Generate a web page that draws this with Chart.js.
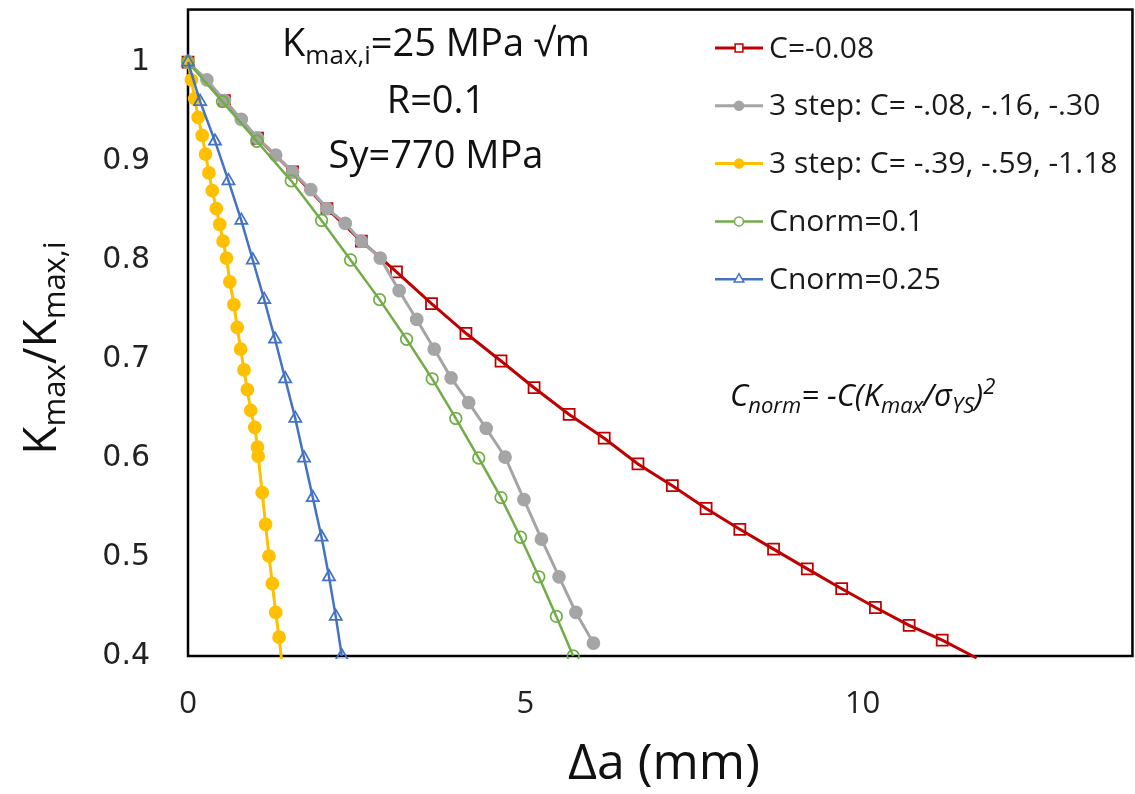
<!DOCTYPE html>
<html>
<head>
<meta charset="utf-8">
<title>Kmax/Kmax,i vs crack extension</title>
<script src="https://cdn.jsdelivr.net/npm/chart.js@4.4.1/dist/chart.umd.min.js"></script>
<style>
  html, body { margin: 0; padding: 0; background: #fff; overflow: hidden; }
  #wrap { width: 1135px; height: 794px; overflow: hidden; }
</style>
</head>
<body>
<div id="wrap"><canvas id="chart" width="1142" height="794"></canvas></div>
<script>
// values: crack extension (mm) vs Kmax/Kmax,i
const redX = [0, 0.54, 1.03, 1.55, 2.06, 2.57, 3.09, 3.61, 4.12, 4.64, 5.13, 5.65, 6.17, 6.67, 7.18, 7.68, 8.18, 8.68, 9.18, 9.69, 10.19, 10.69, 11.18, 11.69];
const redY = [1, 0.961, 0.923, 0.889, 0.852, 0.819, 0.788, 0.756, 0.726, 0.698, 0.671, 0.644, 0.620, 0.594, 0.572, 0.549, 0.528, 0.508, 0.488, 0.468, 0.449, 0.431, 0.416, 0.398];

const greyX = [0, 0.28, 0.54, 0.79, 1.03, 1.30, 1.55, 1.82, 2.06, 2.33, 2.57, 2.85, 3.13, 3.39, 3.65, 3.90, 4.16, 4.42, 4.70, 4.98, 5.24, 5.50, 5.75, 6.01];
const greyY = [1, 0.982, 0.961, 0.942, 0.923, 0.906, 0.889, 0.871, 0.852, 0.837, 0.819, 0.802, 0.769, 0.740, 0.710, 0.681, 0.656, 0.630, 0.601, 0.558, 0.518, 0.480, 0.444, 0.413];

const yellowX = [0, 0.05, 0.10, 0.15, 0.21, 0.26, 0.31, 0.36, 0.42, 0.47, 0.52, 0.57, 0.62, 0.68, 0.73, 0.78, 0.83, 0.88, 0.93, 0.99, 1.03, 1.04, 1.10, 1.15, 1.20, 1.25, 1.30, 1.35, 1.40];
const yellowY = [1, 0.982, 0.963, 0.944, 0.926, 0.907, 0.888, 0.870, 0.852, 0.836, 0.819, 0.802, 0.778, 0.755, 0.732, 0.710, 0.689, 0.669, 0.648, 0.631, 0.611, 0.602, 0.565, 0.533, 0.501, 0.473, 0.444, 0.419, 0.388];

const greenX = [0, 0.51, 1.02, 1.53, 1.98, 2.41, 2.84, 3.24, 3.62, 3.97, 4.31, 4.64, 4.93, 5.20, 5.46, 5.71];
const greenY = [1, 0.96, 0.92, 0.88, 0.84, 0.80, 0.76, 0.72, 0.68, 0.64, 0.60, 0.56, 0.52, 0.48, 0.44, 0.40];

const blueX = [0, 0.18, 0.40, 0.60, 0.79, 0.96, 1.13, 1.29, 1.44, 1.59, 1.72, 1.85, 1.98, 2.09, 2.19, 2.28];
const blueY = [1, 0.96, 0.92, 0.88, 0.84, 0.80, 0.76, 0.72, 0.68, 0.64, 0.60, 0.56, 0.52, 0.48, 0.44, 0.40];

const seriesLabels = ["C=-0.08", "3 step: C= -.08, -.16, -.30", "3 step: C= -.39, -.59, -1.18", "Cnorm=0.1", "Cnorm=0.25"];

const xTicks = [0, 5, 10];
const yTicks = [0.4, 0.5, 0.6, 0.7, 0.8, 0.9, 1];

const yMin = 0.4, yMax = 1.053;
const xMin = 0, xMax = 14;

const pts = (xs, ys) => xs.map((x, i) => ({ x: x, y: ys[i] }));
const hideBelow = r => c => (c.raw && c.raw.y < yMin) ? 0 : r;

const styles = [
  { color: "#C00000", style: "rect",     r: 7.8, legR: 5.5, filled: false, width: 3 },
  { color: "#A5A5A5", style: "circle",   r: 6,   legR: 4.5, filled: true,  width: 3 },
  { color: "#FFC000", style: "circle",   r: 6,   legR: 4.5, filled: true,  width: 3 },
  { color: "#70AD47", style: "circle",   r: 5.8, legR: 4.5, filled: false, width: 2.5 },
  { color: "#4472C4", style: "triangle", r: 7,   legR: 5.5, filled: false, width: 2.5 }
];
const seriesData = [pts(redX, redY), pts(greyX, greyY), pts(yellowX, yellowY), pts(greenX, greenY), pts(blueX, blueY)];

const datasets = seriesData.map((d, i) => {
  const s = styles[i];
  return {
    label: seriesLabels[i],
    data: d,
    borderColor: s.color,
    borderWidth: s.width,
    backgroundColor: s.filled ? s.color : "rgba(0,0,0,0)",
    pointStyle: s.style,
    pointRadius: hideBelow(s.r),
    pointBorderColor: s.color,
    pointBackgroundColor: s.filled ? s.color : "rgba(0,0,0,0)",
    pointBorderWidth: 1.75,
    tension: 0,
    fill: false,
    order: 5 - i,
    clip: { left: 10, top: 10, right: 10, bottom: 3 }
  };
});

function drawRich(ctx, runs, x, y, align) {
  let total = 0;
  runs.forEach(r => {
    ctx.font = (r.italic ? "italic " : "") + r.size + "px 'Open Sans'";
    r.w = ctx.measureText(r.t).width;
    total += r.w;
  });
  let cx = align === "center" ? x - total / 2 : x;
  runs.forEach(r => {
    ctx.font = (r.italic ? "italic " : "") + r.size + "px 'Open Sans'";
    ctx.fillText(r.t, cx, y + (r.dy || 0));
    cx += r.w;
  });
}

const decor = {
  id: "decor",
  beforeDatasetsDraw(chart) {
    const { ctx, chartArea: a } = chart;
    ctx.save();
    ctx.strokeStyle = "#000";
    ctx.lineWidth = 2.5;
    ctx.strokeRect(a.left, a.top, a.right - a.left, a.bottom - a.top);
    ctx.restore();
  },
  afterDraw(chart) {
    const ctx = chart.ctx;
    ctx.save();
    ctx.fillStyle = "#111";
    ctx.textAlign = "left";
    ctx.textBaseline = "alphabetic";

    // annotation block
    drawRich(ctx, [
      { t: "K", size: 38 }, { t: "max,i", size: 26, dy: 8 }, { t: "=25 MPa \u221Am", size: 38 }
    ], 436, 56, "center");
    drawRich(ctx, [{ t: "R=0.1", size: 38 }], 436, 113, "center");
    drawRich(ctx, [{ t: "Sy=770 MPa", size: 38 }], 436, 168, "center");

    // formula
    drawRich(ctx, [
      { t: "C", size: 31, italic: true }, { t: "norm", size: 22, dy: 7, italic: true },
      { t: "= -C(K", size: 31, italic: true }, { t: "max", size: 22, dy: 7, italic: true },
      { t: "/\u03C3", size: 31, italic: true }, { t: "YS", size: 22, dy: 7, italic: true },
      { t: ")", size: 31, italic: true }, { t: "2", size: 22, dy: -12, italic: true }
    ], 730, 406, "left");

    // legend
    chart.data.datasets.forEach((ds, i) => {
      const s = styles[i];
      const y = 48 + i * 57.8;
      ctx.strokeStyle = s.color;
      ctx.lineWidth = s.width;
      ctx.beginPath();
      ctx.moveTo(715, y);
      ctx.lineTo(763, y);
      ctx.stroke();
      ctx.fillStyle = s.filled ? s.color : "#fff";
      ctx.lineWidth = 1.5;
      Chart.helpers.drawPoint(ctx, { pointStyle: s.style, radius: s.legR, rotation: 0, borderWidth: 1.5 }, 739, y);
      ctx.fillStyle = "#1a1a1a";
      ctx.font = "30px 'Open Sans'";
      ctx.textBaseline = "middle";
      ctx.fillText(ds.label, 769, y + 1);
      ctx.textBaseline = "alphabetic";
    });

    // axis titles
    ctx.fillStyle = "#111";
    ctx.textBaseline = "middle";
    ctx.textAlign = "center";
    ctx.font = "50px 'Open Sans'";
    ctx.fillText("\u0394a (mm)", 664, 765);

    ctx.textAlign = "left";
    ctx.textBaseline = "alphabetic";
    ctx.translate(56, 348);
    ctx.rotate(-Math.PI / 2);
    drawRich(ctx, [
      { t: "K", size: 46 }, { t: "max", size: 31, dy: 9 }, { t: "/K", size: 46 }, { t: "max,i", size: 31, dy: 9 }
    ], 0, 0, "center");
    ctx.restore();
  }
};

new Chart(document.getElementById("chart").getContext("2d"), {
  type: "line",
  data: { datasets: datasets },
  options: {
    responsive: false,
    animation: false,
    events: [],
    layout: { padding: { top: 7, right: 2, left: 0, bottom: 0 } },
    plugins: { legend: { display: false }, tooltip: { enabled: false } },
    scales: {
      x: {
        type: "linear",
        min: xMin, max: xMax,
        grid: { display: false, drawTicks: false },
        border: { display: false },
        afterBuildTicks: s => { s.ticks = xTicks.map(v => ({ value: v })); },
        ticks: {
          padding: 30,
          color: "#222", font: { family: "'Open Sans'", size: 31 },
          callback: v => String(v)
        },
        afterFit: s => { s.height = 138; s.paddingLeft = 0; s.paddingRight = 0; }
      },
      y: {
        type: "linear",
        min: yMin, max: yMax,
        grid: { display: false, drawTicks: false },
        border: { display: false },
        afterBuildTicks: s => { s.ticks = yTicks.map(v => ({ value: v })); },
        ticks: {
          padding: 38,
          color: "#222", font: { family: "'DejaVu Sans'", size: 30 },
          callback: v => String(v)
        },
        afterFit: s => { s.width = 188; s.paddingTop = 0; s.paddingBottom = 0; }
      }
    }
  },
  plugins: [decor]
});
</script>
</body>
</html>
